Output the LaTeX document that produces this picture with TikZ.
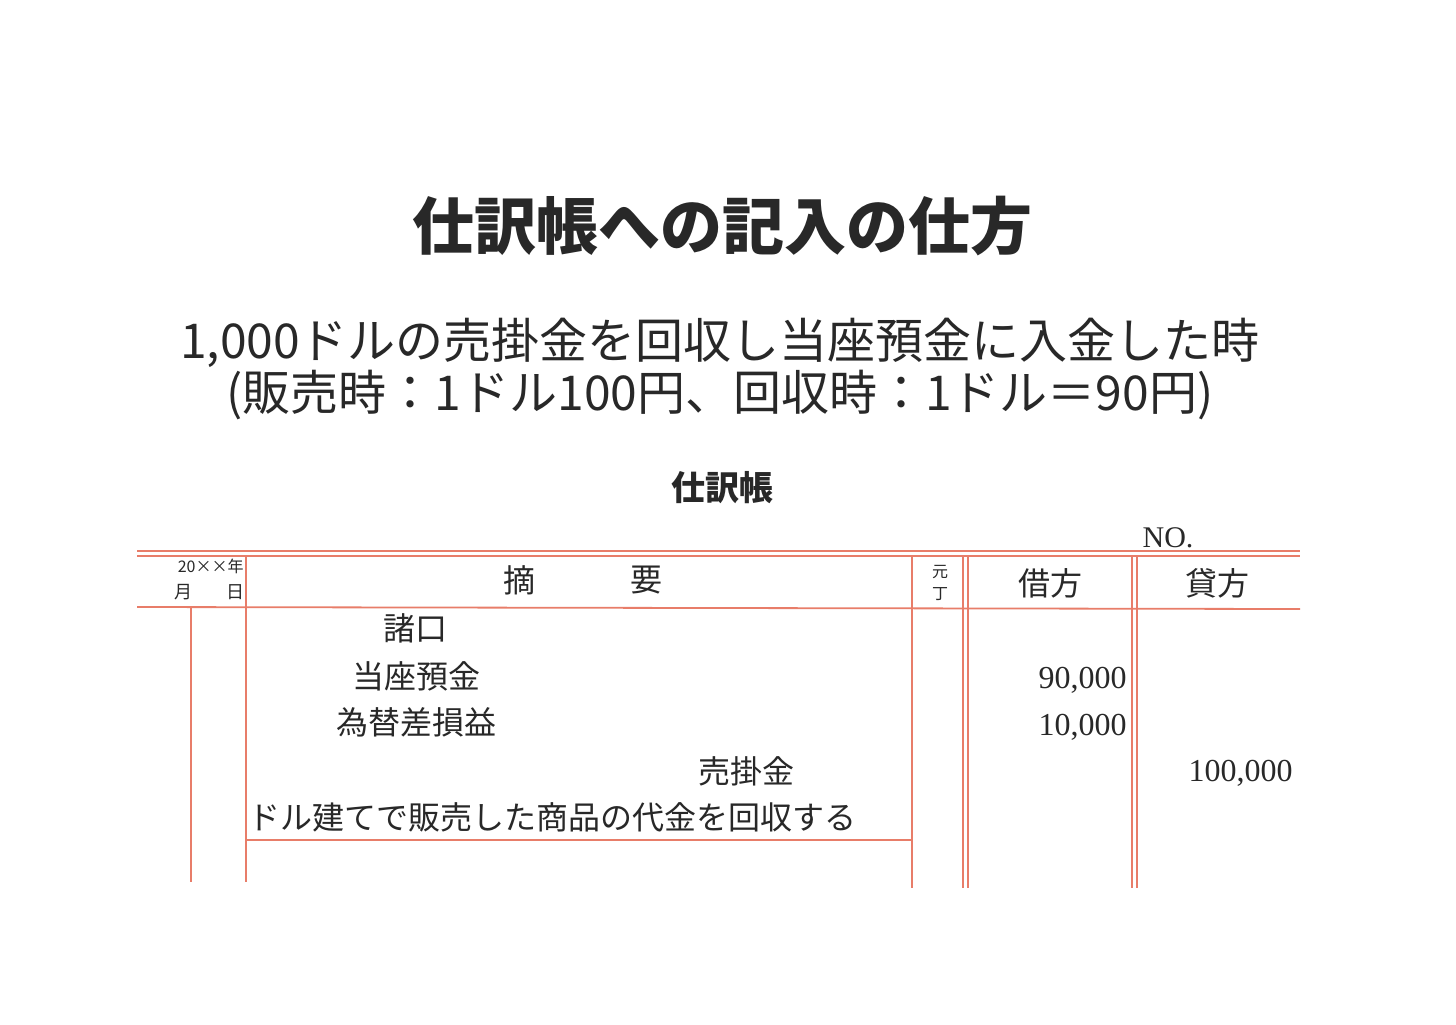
\documentclass[tikz,border=0pt]{standalone}
\usepackage{fontspec}
\setmainfont{Noto Sans CJK JP}
\newfontfamily\numf{Liberation Serif}
\definecolor{rl}{RGB}{232,125,105}
\definecolor{tx}{RGB}{40,40,40}
\begin{document}
\begin{tikzpicture}[x=0.5pt,y=-0.5pt,
  rule/.style={draw=rl,line width=0.9pt},
  t/.style={inner sep=0pt,text=tx,font=\fontsize{16}{18}\selectfont}]
\useasboundingbox[fill=white] (0,0) rectangle (1456,1024);
\node[t,font=\fontsize{31}{36}\selectfont\bfseries] (title) at (722,226) {仕訳帳への記入の仕方};
\node[t,font=\fontsize{24}{28}\selectfont] (s1) at (720,343) {1,000ドルの売掛金を回収し当座預金に入金した時};
\node[t,font=\fontsize{24}{28}\selectfont] (s2) at (720,395) {(販売時：1ドル100円、回収時：1ドル＝90円)};
\node[t,font=\fontsize{17}{20}\selectfont\bfseries] (jn) at (722,488) {仕訳帳};
\node[t,font=\fontsize{15}{18}\selectfont\numf] (no) at (1168,538) {NO.};
% rules
\draw[rule] (137,551) -- (1300,551);
\draw[rule] (137,556) -- (1300,556);
\draw[rule] (137,607) -- (1300,609);
\draw[rule] (191,607) -- (191,882);
\draw[rule] (246,556) -- (246,882);
\draw[rule] (912,556) -- (912,888);
\draw[rule] (963,556) -- (963,888);
\draw[rule] (968,556) -- (968,888);
\draw[rule] (1132,556) -- (1132,888);
\draw[rule] (1137,556) -- (1137,888);
\draw[rule] (246,840) -- (912,840);
% header
\node[t,font=\fontsize{8}{9}\selectfont,anchor=east] (yr) at (244,566) {20××年};
\node[t,font=\fontsize{9}{10}\selectfont] (mo) at (183,592) {月};
\node[t,font=\fontsize{9}{10}\selectfont] (dy) at (235,592) {日};
\node[t] (h1) at (519,580) {摘};
\node[t] (h2) at (646,580) {要};
\node[t,font=\fontsize{8}{9}\selectfont] (g1) at (940,572) {元};
\node[t,font=\fontsize{8}{9}\selectfont] (g2) at (940,594) {丁};
\node[t] (dr) at (1050,583) {借方};
\node[t] (cr) at (1217,583) {貸方};
% entries
\node[t] (e1) at (415,628) {諸口};
\node[t] (e2) at (416,676) {当座預金};
\node[t] (e3) at (416,722) {為替差損益};
\node[t] (e4) at (746,771) {売掛金};
\node[t,anchor=west] (e5) at (248,817) {ドル建てで販売した商品の代金を回収する};
\node[t,anchor=east,font=\fontsize{16}{18}\selectfont\numf] (a1) at (1127,680) {90,000};
\node[t,anchor=east,font=\fontsize{16}{18}\selectfont\numf] (a2) at (1127,727) {10,000};
\node[t,anchor=east,font=\fontsize{16}{18}\selectfont\numf] (a3) at (1293,773) {100,000};
\end{tikzpicture}
\end{document}
